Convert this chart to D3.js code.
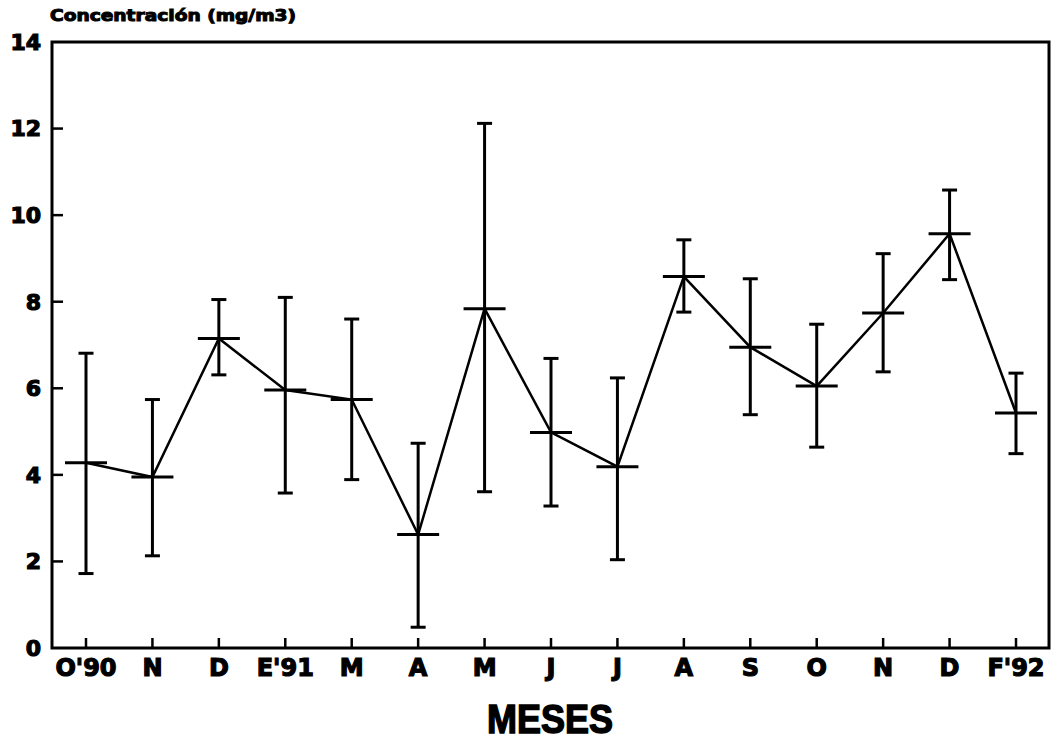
<!DOCTYPE html>
<html>
<head>
<meta charset="utf-8">
<script src="https://cdn.jsdelivr.net/npm/d3@7"></script>
<style>
  html, body { margin: 0; padding: 0; background: #fff; }
  svg text { font-family: "DejaVu Sans", sans-serif; font-weight: bold; fill: #000; }
</style>
</head>
<body>
<svg id="chart" width="1055" height="744"></svg>
<script>
'use strict';

// data
var months = ["O'90", "N", "D", "E'91", "M", "A", "M", "J", "J", "A", "S", "O", "N", "D", "F'92"];
var means  = [4.28, 3.95, 7.15, 5.96, 5.74, 2.62, 7.84, 4.98, 4.19, 8.58, 6.95, 6.05, 7.74, 9.57, 5.43];
var upper  = [6.81, 5.74, 8.05, 8.10, 7.60, 4.73, 12.12, 6.69, 6.24, 9.43, 8.53, 7.48, 9.11, 10.58, 6.35];
var lower  = [1.72, 2.13, 6.31, 3.58, 3.89, 0.48, 3.61, 3.28, 2.04, 7.76, 5.39, 4.64, 6.38, 8.51, 4.49];
var yTicks = [0, 2, 4, 6, 8, 10, 12, 14];

(function() {
  var svg = d3.select("#chart");
  var pLeft = 52, pRight = 1049, pTop = 42, pBottom = 648;

  var x = d3.scalePoint().domain(d3.range(months.length)).range([86, 1016]);
  var y = d3.scaleLinear().domain([0, 14]).range([pBottom, pTop]);

  var data = months.map(function(m, i) {
    return { i: i, label: m, mean: means[i], hi: upper[i], lo: lower[i] };
  });

  // frame
  svg.append("rect")
    .attr("x", pLeft).attr("y", pTop)
    .attr("width", pRight - pLeft).attr("height", pBottom - pTop)
    .attr("fill", "none").attr("stroke", "#000").attr("stroke-width", 3);

  // y ticks (inward)
  svg.append("g").selectAll("line")
    .data(yTicks.filter(function(t) { return t > 0 && t < 14; }))
    .enter().append("line")
    .attr("x1", pLeft).attr("x2", pLeft + 11)
    .attr("y1", function(d) { return y(d); }).attr("y2", function(d) { return y(d); })
    .attr("stroke", "#000").attr("stroke-width", 2.5);

  svg.append("g").selectAll("text")
    .data(yTicks).enter().append("text")
    .attr("x", 41).attr("y", function(d) { return y(d); })
    .attr("dy", "0.36em")
    .attr("text-anchor", "end")
    .attr("font-size", 22)
    .attr("stroke", "#000").attr("stroke-width", 1.2)
    .text(function(d) { return d; });

  // x ticks (inward)
  svg.append("g").selectAll("line")
    .data(data).enter().append("line")
    .attr("x1", function(d) { return x(d.i); }).attr("x2", function(d) { return x(d.i); })
    .attr("y1", pBottom).attr("y2", pBottom - 10)
    .attr("stroke", "#000").attr("stroke-width", 2.5);

  svg.append("g").selectAll("text")
    .data(data).enter().append("text")
    .attr("x", function(d) { return x(d.i); })
    .attr("y", 676)
    .attr("text-anchor", "middle")
    .attr("font-size", 24)
    .attr("stroke", "#000").attr("stroke-width", 1.2)
    .text(function(d) { return d.label; });

  // axis titles
  svg.append("text")
    .attr("x", 487).attr("y", 733)
    .style("font-family", "'Liberation Sans', Arial, sans-serif")
    .attr("font-size", 40)
    .attr("textLength", 126)
    .attr("lengthAdjust", "spacingAndGlyphs")
    .attr("stroke", "#000").attr("stroke-width", 1.5)
    .text("MESES");

  svg.append("text")
    .attr("x", 50).attr("y", 21)
    .attr("font-size", 15)
    .attr("textLength", 246)
    .attr("lengthAdjust", "spacingAndGlyphs")
    .attr("stroke", "#000").attr("stroke-width", 1)
    .text("Concentración (mg/m3)");

  // error bars
  var bars = svg.append("g").selectAll("g")
    .data(data).enter().append("g");

  bars.append("line")
    .attr("x1", function(d) { return x(d.i); }).attr("x2", function(d) { return x(d.i); })
    .attr("y1", function(d) { return y(d.hi); }).attr("y2", function(d) { return y(d.lo); })
    .attr("stroke", "#000").attr("stroke-width", 3);

  bars.append("line")
    .attr("x1", function(d) { return x(d.i) - 7.5; }).attr("x2", function(d) { return x(d.i) + 7.5; })
    .attr("y1", function(d) { return y(d.hi); }).attr("y2", function(d) { return y(d.hi); })
    .attr("stroke", "#000").attr("stroke-width", 3);

  bars.append("line")
    .attr("x1", function(d) { return x(d.i) - 7.5; }).attr("x2", function(d) { return x(d.i) + 7.5; })
    .attr("y1", function(d) { return y(d.lo); }).attr("y2", function(d) { return y(d.lo); })
    .attr("stroke", "#000").attr("stroke-width", 3);

  // mean marker
  bars.append("line")
    .attr("x1", function(d) { return x(d.i) - 21; }).attr("x2", function(d) { return x(d.i) + 21; })
    .attr("y1", function(d) { return y(d.mean); }).attr("y2", function(d) { return y(d.mean); })
    .attr("stroke", "#000").attr("stroke-width", 3);

  // connecting line
  var line = d3.line()
    .x(function(d) { return x(d.i); })
    .y(function(d) { return y(d.mean); });

  svg.append("path")
    .datum(data)
    .attr("d", line)
    .attr("fill", "none")
    .attr("stroke", "#000")
    .attr("stroke-width", 2.5);
})();
</script>
</body>
</html>
